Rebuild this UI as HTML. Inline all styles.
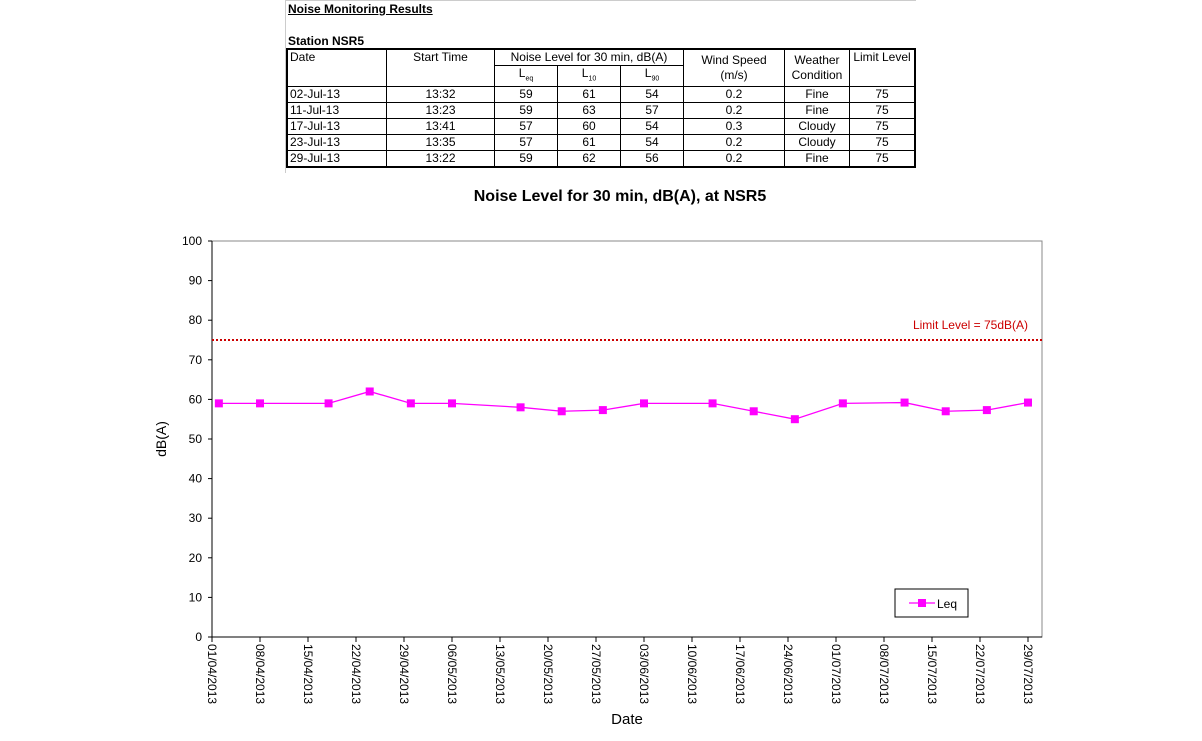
<!DOCTYPE html>
<html><head><meta charset="utf-8">
<style>
body{margin:0;background:#fff;font-family:"Liberation Sans",Arial,sans-serif;}
#wrap{position:relative;width:1202px;height:741px;overflow:hidden;}
.tbl{position:absolute;left:286px;top:48px;border-collapse:collapse;font-size:12px;}
.tbl td{border:1px solid #000;padding:0 2px;height:15px;line-height:15px;text-align:center;}
sub{font-size:7px;}
</style></head><body>
<div id="wrap">
<div style="position:absolute;left:285px;top:0;width:630px;height:172px;border-left:1px solid #ccc;border-top:1px solid #ccc;"></div>
<div style="position:absolute;left:288px;top:2px;font-size:12px;font-weight:bold;text-decoration:underline;">Noise Monitoring Results</div>
<div style="position:absolute;left:288px;top:34px;font-size:12px;font-weight:bold;">Station NSR5</div>
<table class="tbl" style="border:2px solid #000;width:630px;">
<tr style="height:16px"><td rowspan="2" style="text-align:left;vertical-align:top;width:94px">Date</td><td rowspan="2" style="vertical-align:top;width:103px">Start Time</td><td colspan="3">Noise Level for 30 min, dB(A)</td><td rowspan="2" style="width:96px">Wind Speed<br>(m/s)</td><td rowspan="2" style="width:60px">Weather<br>Condition</td><td rowspan="2" style="vertical-align:top">Limit Level</td></tr>
<tr style="height:18px"><td style="width:58px">L<sub>eq</sub></td><td style="width:58px">L<sub>10</sub></td><td style="width:58px">L<sub>90</sub></td></tr>
<tr><td style="text-align:left">02-Jul-13</td><td>13:32</td><td>59</td><td>61</td><td>54</td><td>0.2</td><td>Fine</td><td>75</td></tr>
<tr><td style="text-align:left">11-Jul-13</td><td>13:23</td><td>59</td><td>63</td><td>57</td><td>0.2</td><td>Fine</td><td>75</td></tr>
<tr><td style="text-align:left">17-Jul-13</td><td>13:41</td><td>57</td><td>60</td><td>54</td><td>0.3</td><td>Cloudy</td><td>75</td></tr>
<tr><td style="text-align:left">23-Jul-13</td><td>13:35</td><td>57</td><td>61</td><td>54</td><td>0.2</td><td>Cloudy</td><td>75</td></tr>
<tr><td style="text-align:left">29-Jul-13</td><td>13:22</td><td>59</td><td>62</td><td>56</td><td>0.2</td><td>Fine</td><td>75</td></tr>
</table>
<svg id="chart" width="1202" height="741" style="position:absolute;left:0;top:0"></svg>
</div>
<script>
const pointDays=[1,7,17,23,29,35,45,51,57,63,73,79,85,92,101,107,113,119];
const leqValues=[59,59,59,62,59,59,58,57,57.3,59,59,57,55,59,59.2,57,57.3,59.2];
const yTicks=[0,10,20,30,40,50,60,70,80,90,100];
const xTickLabels=["01/04/2013","08/04/2013","15/04/2013","22/04/2013","29/04/2013","06/05/2013","13/05/2013","20/05/2013","27/05/2013","03/06/2013","10/06/2013","17/06/2013","24/06/2013","01/07/2013","08/07/2013","15/07/2013","22/07/2013","29/07/2013"];
const limitLevel=75;
const svg=document.getElementById('chart');const NS='http://www.w3.org/2000/svg';
const L=212,R=1042,T=241,B=637,dayPx=816/119;
const X=d=>L+d*dayPx, Y=v=>B-(v/100)*(B-T);
function mk(tag,attrs,parent){const e=document.createElementNS(NS,tag);for(const k in attrs)e.setAttribute(k,attrs[k]);(parent||svg).appendChild(e);return e;}
let t=mk('text',{x:620,y:201,'text-anchor':'middle','font-size':16,'font-weight':'bold','font-family':'Liberation Sans'});t.textContent='Noise Level for 30 min, dB(A), at NSR5';


let fr=mk('rect',{x:L,y:T,width:R-L,height:B-T,fill:'none',stroke:'#888','stroke-width':1});


mk('line',{x1:L,y1:T,x2:L,y2:B,stroke:'#000'});
mk('line',{x1:L,y1:B,x2:R,y2:B,stroke:'#000'});
yTicks.forEach(v=>{mk('line',{x1:L-4,y1:Y(v),x2:L,y2:Y(v),stroke:'#000'});
 const tx=mk('text',{x:L-10,y:Y(v)+4,'text-anchor':'end','font-size':12,'font-family':'Liberation Sans'});tx.textContent=v;
 
 });
xTickLabels.forEach((s,i)=>{const x=X(i*7);mk('line',{x1:x,y1:B,x2:x,y2:B+5,stroke:'#000'});
 const tx=mk('text',{x:0,y:0,'font-size':12,'font-family':'Liberation Sans',transform:`translate(${x-4},${B+7}) rotate(90)`});tx.textContent=s;
 
 });
let yt=mk('text',{x:0,y:0,'font-size':14,'text-anchor':'middle','font-family':'Liberation Sans',transform:`translate(166,439) rotate(-90)`});yt.textContent='dB(A)';


let xt=mk('text',{x:627,y:724,'font-size':15,'text-anchor':'middle','font-family':'Liberation Sans'});xt.textContent='Date';


let ll=mk('line',{x1:L,y1:Y(limitLevel),x2:R,y2:Y(limitLevel),stroke:'#c00','stroke-width':2,'stroke-dasharray':'2,2'});


let lt=mk('text',{x:1028,y:Y(limitLevel)-11,'text-anchor':'end','font-size':12,fill:'#c00','font-family':'Liberation Sans'});lt.textContent='Limit Level  = '+limitLevel+'dB(A)';


let pl=mk('polyline',{points:pointDays.map((d,i)=>X(d)+','+Y(leqValues[i])).join(' '),fill:'none',stroke:'#f0f','stroke-width':1.3});


pointDays.forEach((d,i)=>{const r=mk('rect',{x:X(d)-4,y:Y(leqValues[i])-4,width:8,height:8,fill:'#f0f'});
 
 });
let lg=mk('g',{});


mk('rect',{x:895,y:589,width:73,height:28,fill:'#fff',stroke:'#000'},lg);
mk('line',{x1:909,y1:603,x2:935,y2:603,stroke:'#f0f','stroke-width':1.3},lg);
mk('rect',{x:918,y:599,width:8,height:8,fill:'#f0f'},lg);
const lgt=mk('text',{x:937,y:608,'font-size':12,'font-family':'Liberation Sans'},lg);lgt.textContent='Leq';
</script>
</body></html>
